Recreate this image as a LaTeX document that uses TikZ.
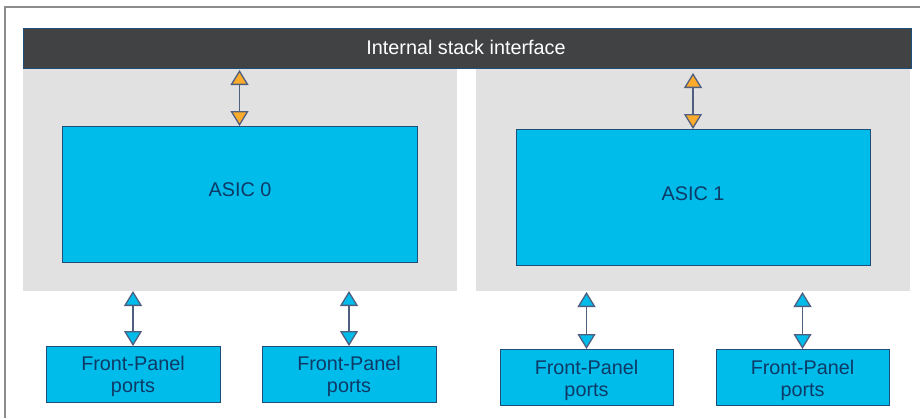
\documentclass[tikz,border=0pt]{standalone}
\usepackage{fontspec}
\setmainfont{Liberation Sans}
\usetikzlibrary{arrows.meta}
\definecolor{edgeblue}{HTML}{1F4E79}
\definecolor{cyanfill}{HTML}{00BCEB}
\definecolor{darkbar}{HTML}{414244}
\definecolor{panelgrey}{HTML}{E1E1E1}
\definecolor{orangefill}{HTML}{FBAB2C}
\definecolor{textblue}{HTML}{0D3A66}
\definecolor{linegrey}{HTML}{4F5F7F}
\tikzset{
  x=1pt,y=-1pt,
  panel/.style={fill=panelgrey,draw=none,minimum width=#1,minimum height=222pt,inner sep=0pt,anchor=north west},
  asic/.style={fill=cyanfill,draw=edgeblue,line width=1.2pt,minimum width=354.5pt,minimum height=135.5pt,inner sep=0pt,anchor=north west},
  port/.style={fill=cyanfill,draw=edgeblue,line width=1.2pt,minimum width=173.5pt,minimum height=56pt,inner sep=0pt,anchor=north west},
  lab/.style={text=textblue,align=center,font=\fontsize{19.8}{22}\selectfont},
  biorange/.style={draw=linegrey,line width=1.5pt,{Triangle[length=15pt,width=18pt,fill=orangefill,line width=1.3pt]}-{Triangle[length=15pt,width=18pt,fill=orangefill,line width=1.3pt]}},
  biblue/.style={draw=linegrey,line width=1.5pt,{Triangle[length=15pt,width=18pt,fill=cyanfill,line width=1.3pt]}-{Triangle[length=15pt,width=18pt,fill=cyanfill,line width=1.3pt]}},
}
\begin{document}
\begin{tikzpicture}
\useasboundingbox (0,0) rectangle (920,418);
\fill[white] (0,0) rectangle (920,418);
\draw[color=gray!90,line width=1.5pt] (920,7) -- (5,7) -- (5,418);
\node[panel=434pt] (p0) at (23,69) {};
\node[panel=434pt] (p1) at (476,69) {};
\node[fill=darkbar,draw=edgeblue,line width=1pt,minimum width=888pt,minimum height=40pt,inner sep=0pt,anchor=north west] (bar) at (23,28) {};
\node[text=white,font=\fontsize{19.8}{22}\selectfont] (barlabel) at (466,47) {Internal stack interface};
\node[asic] (a0) at (62,126) {};
\node[lab] (a0label) at (240,190) {ASIC 0};
\node[asic] (a1) at (515.5,129) {};
\node[lab] (a1label) at (693,194) {ASIC 1};
\node[port] (f0) at (46,346) {};
\node[lab] (f0label) at (133,376) {Front-Panel\\ports};
\node[port] (f1) at (262,346) {};
\node[lab] (f1label) at (349,376) {Front-Panel\\ports};
\node[port] (f2) at (499.5,349) {};
\node[lab] (f2label) at (586.5,380) {Front-Panel\\ports};
\node[port] (f3) at (715.5,349) {};
\node[lab] (f3label) at (802.5,380) {Front-Panel\\ports};
\coordinate (t0) at (239.5,70);
\coordinate (t1) at (693,73);
\coordinate (b0) at (133,291);
\coordinate (b1) at (349,291);
\coordinate (b2) at (586.5,292);
\coordinate (b3) at (802.5,292);
\draw[biorange] (t0) -- (t0 |- a0.north);
\draw[biorange] (t1) -- (t1 |- a1.north);
\draw[biblue] (b0) -- (b0 |- f0.north);
\draw[biblue] (b1) -- (b1 |- f1.north);
\draw[biblue] (b2) -- (b2 |- f2.north);
\draw[biblue] (b3) -- (b3 |- f3.north);
\end{tikzpicture}
\end{document}
